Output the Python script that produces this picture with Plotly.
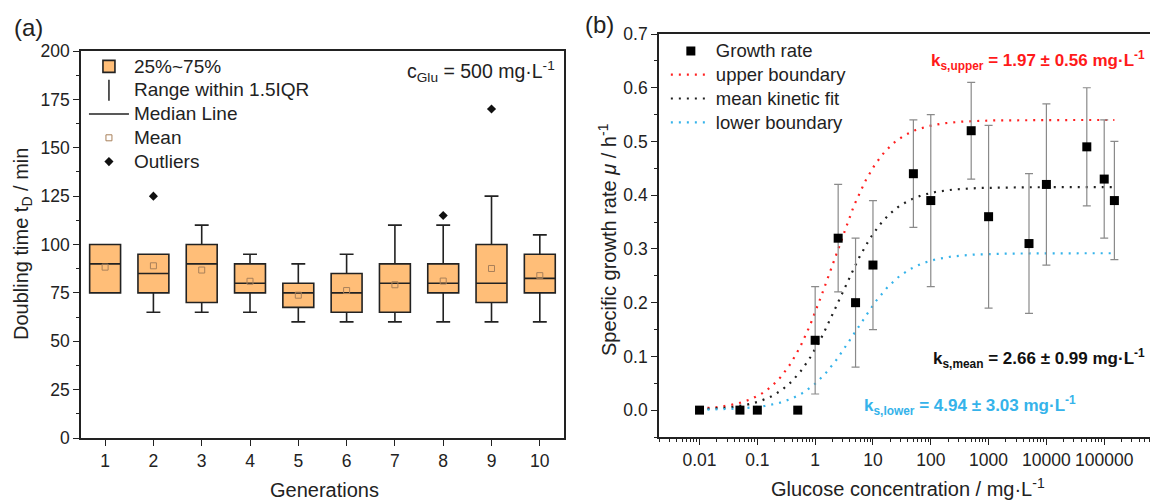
import numpy as np
import plotly.graph_objects as go

# ---------------- Panel (a): doubling time box plots ----------------
generations = [1, 2, 3, 4, 5, 6, 7, 8, 9, 10]
q1 = [75, 75, 70, 75, 67.5, 65, 65, 75, 70, 75]
median = [90, 85, 90, 80, 75, 75, 80, 80, 80, 82.5]
q3 = [100, 95, 100, 90, 80, 85, 90, 90, 100, 95]
lower_whisker = [75, 65, 65, 65, 60, 60, 60, 60, 60, 60]
upper_whisker = [100, 95, 110, 95, 90, 95, 110, 110, 125, 105]
mean_vals = [88.3, 89, 86.8, 81, 73.8, 76.2, 79.2, 81.1, 87.6, 83.9]
outlier_gen = [2, 8, 9]
outlier_vals = [125, 115, 170]

# ---------------- Panel (b): growth rate vs glucose ----------------
glucose = [0.01, 0.05, 0.1, 0.5, 1, 2.5, 5, 10, 50, 100, 500, 1000, 5000, 10000, 50000, 100000, 150000]
growth = [0.0, 0.0, 0.0, 0.0, 0.13, 0.32, 0.20, 0.27, 0.44, 0.39, 0.52, 0.36, 0.31, 0.42, 0.49, 0.43, 0.39]
growth_err = [0, 0, 0, 0, 0.10, 0.10, 0.12, 0.12, 0.10, 0.16, 0.09, 0.17, 0.13, 0.15, 0.11, 0.11, 0.11]

# Monod fit parameters (mu_max in 1/h, Ks in mg/L)
fit_names = ["upper boundary", "mean kinetic fit", "lower boundary"]
fit_mumax = [0.54, 0.415, 0.292]
fit_ks = [1.97, 2.66, 4.94]
fit_colors = ["#ff2020", "#202020", "#35b3ea"]

FONT = "Liberation Sans, Arial, sans-serif"
BOX_FILL = "#ffbe78"
MEAN_COL = "#a9805a"
INK = "#222222"


def lg(text, px):
    # legend label rendered larger than the row height font
    return f"<span style='font-size:{px}px'>{text}</span>"


fig = go.Figure()

# Box trace (precomputed statistics)
fig.add_trace(go.Box(
    x=generations, q1=q1, median=median, q3=q3,
    lowerfence=lower_whisker, upperfence=upper_whisker,
    width=0.64, whiskerwidth=0.45, boxpoints=False,
    fillcolor=BOX_FILL, line=dict(color=INK, width=1.6),
    name=lg("25%~75%", 19), legend="legend", xaxis="x", yaxis="y",
    hoverinfo="skip",
))
# legend-only helpers
fig.add_trace(go.Scatter(
    x=[None], y=[None], mode="markers", name=lg("Range within 1.5IQR", 19),
    marker=dict(symbol="line-ns", size=15, line=dict(color=INK, width=1.5)),
    legend="legend", xaxis="x", yaxis="y",
))
fig.add_trace(go.Scatter(
    x=[None], y=[None], mode="lines", name=lg("Median Line", 19),
    line=dict(color=INK, width=1.6),
    legend="legend", xaxis="x", yaxis="y",
))
fig.add_trace(go.Scatter(
    x=generations, y=mean_vals, mode="markers", name=lg("Mean", 19),
    marker=dict(symbol="square-open", size=6, color=MEAN_COL, line=dict(width=1)),
    legend="legend", xaxis="x", yaxis="y",
))
fig.add_trace(go.Scatter(
    x=outlier_gen, y=outlier_vals, mode="markers", name=lg("Outliers", 19),
    marker=dict(symbol="diamond", size=7, color="#111111"),
    legend="legend", xaxis="x", yaxis="y",
))

# Fit curves
s_curve = np.logspace(np.log10(glucose[0]), np.log10(glucose[-1]), 300)
for i, (nm, mm, ks, col) in enumerate(zip(fit_names, fit_mumax, fit_ks, fit_colors)):
    fig.add_trace(go.Scatter(
        x=s_curve, y=mm * s_curve / (ks + s_curve), mode="lines", name=lg(nm, 18.5),
        line=dict(color=col, width=2.2, dash="2px,6px"),
        legend="legend2", legendrank=10 + i, xaxis="x2", yaxis="y2",
    ))

fig.add_trace(go.Scatter(
    x=glucose, y=growth, mode="markers", name=lg("Growth rate", 18.5),
    marker=dict(symbol="square", size=9, color="#000000"),
    error_y=dict(type="data", array=growth_err, color="#8a8a8a", thickness=1.2, width=4),
    legend="legend2", legendrank=1, xaxis="x2", yaxis="y2",
))

axis_common = dict(
    showline=True, linecolor=INK, linewidth=1.5,
    ticks="outside", ticklen=6, tickwidth=1.3, tickcolor=INK,
    showgrid=False, zeroline=False, automargin=False, tickangle=0,
    tickfont=dict(size=17.5, color=INK),
)

fig.update_layout(
    width=1150, height=500,
    margin=dict(l=0, r=0, t=0, b=0, autoexpand=False),
    paper_bgcolor="white", plot_bgcolor="white",
    font=dict(family=FONT, size=16, color=INK),
    xaxis=dict(
        domain=[0.0704, 0.4904], range=[0.5, 10.5], anchor="y",
        tickvals=generations, mirror=True,
        **axis_common,
    ),
    yaxis=dict(
        domain=[0.124, 0.898], range=[0, 200], anchor="x",
        dtick=25, mirror=True,
        minor=dict(ticks="outside", ticklen=3, dtick=12.5, tickcolor=INK),
        **axis_common,
    ),
    xaxis2=dict(
        type="log", domain=[0.573, 1.0], range=[-2.702, 5.792], anchor="y2",
        dtick=1, tickformat="~r", mirror=True,
        minor=dict(ticks="outside", ticklen=3, dtick="D1", tickcolor=INK),
        **axis_common,
    ),
    yaxis2=dict(
        domain=[0.126, 0.932], range=[-0.05, 0.7], anchor="x2",
        dtick=0.1, tickformat=".1f", mirror=False,
        minor=dict(ticks="outside", ticklen=3, dtick=0.05, tickcolor=INK),
        **axis_common,
    ),
    legend=dict(
        x=0.073, y=0.901, xanchor="left", yanchor="top",
        bgcolor="rgba(0,0,0,0)", font=dict(size=16), tracegroupgap=0,
        itemwidth=40,
    ),
    legend2=dict(
        x=0.579, y=0.932, xanchor="left", yanchor="top",
        bgcolor="rgba(0,0,0,0)", font=dict(size=16), tracegroupgap=0,
        itemwidth=40, traceorder="normal",
    ),
)


def ann(text, x, y, xanchor="center", size=17, color=INK, angle=0):
    return dict(text=text, x=x / 1150, y=1 - y / 500, xref="paper", yref="paper", xanchor=xanchor,
                yanchor="middle", showarrow=False, textangle=angle,
                font=dict(size=size, color=color))


annotations = [
    ann("(a)", 12, 27, "left", 24),
    ann("(b)", 583, 24, "left", 24),
    # axis titles
    ann("Generations", 324, 490, "center", 20),
    ann("Doubling time t<sub>D</sub> / min", 22, 244, "center", 20, angle=-90),
    ann("Glucose concentration / mg·L<sup>-1</sup>", 908, 487, "center", 20),
    ann("Specific growth rate <i>μ</i> / h<sup>-1</sup>", 607, 240, "center", 20, angle=-90),
    # in-panel texts
    ann("c<sub>Glu</sub> = 500 mg·L<sup>-1</sup>", 557, 71, "right", 19.5),
    ann("<b>k<sub>s,upper</sub> = 1.97 ± 0.56 mg·L<sup>-1</sup></b>", 1147, 60, "right", 17, "#ff1a1a"),
    ann("<b>k<sub>s,mean</sub> = 2.66 ± 0.99 mg·L<sup>-1</sup></b>", 1147, 358, "right", 17, "#111111"),
    ann("<b>k<sub>s,lower</sub> = 4.94 ± 3.03 mg·L<sup>-1</sup></b>", 862, 405, "left", 17, "#35b3ea"),
]
fig.update_layout(annotations=annotations)

fig.write_html("out.html")
